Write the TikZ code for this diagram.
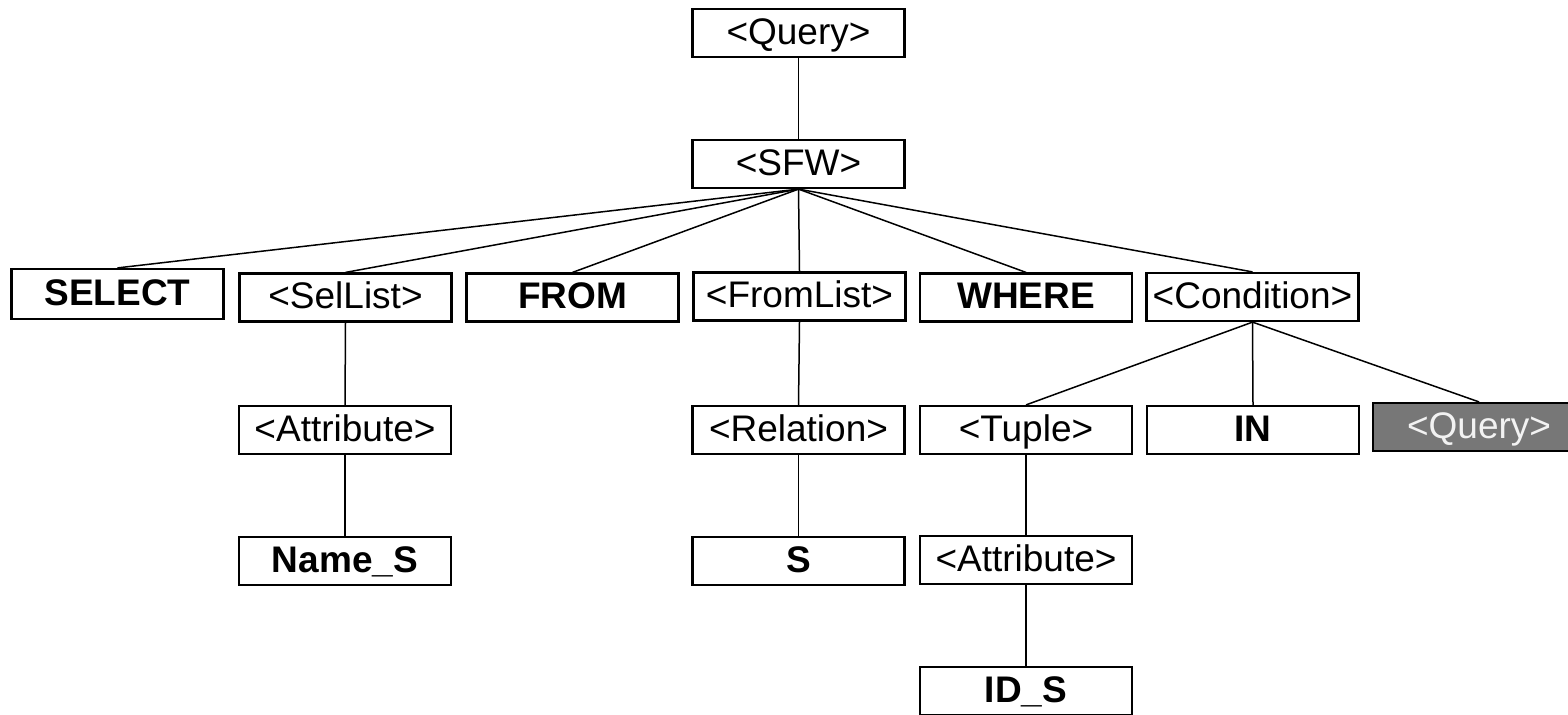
\documentclass[tikz,border=0pt]{standalone}
\usepackage{fontspec}
\setmainfont{Liberation Sans}
\definecolor{shade}{HTML}{777777}
\definecolor{paletext}{HTML}{F2F2F2}
\tikzset{
  box/.style={draw=black, line width=1.1pt, fill=white, minimum width=106pt,
    minimum height=24pt, inner sep=0pt, text height=14.4pt, text depth=3pt,
    font=\fontsize{18.5}{20}\selectfont},
  kw/.style={box, font=\fontsize{18.5}{20}\selectfont\bfseries},
  hl/.style={box, fill=shade, text=paletext},
  link/.style={draw=black, line width=0.75pt}
}
\begin{document}
\begin{tikzpicture}[x=0.5pt,y=-0.5pt]
\clip (0,0) rectangle (1568,714);
\fill[white] (0,0) rectangle (1568,714);
% root and select-from-where
\node[box] (q0) at (798.5,33) {<Query>};
\node[box] (sfw) at (798.5,164) {<SFW>};
% clauses
\node[kw, minimum height=25pt] (select) at (117.5,294) {SELECT};
\node[box] (sellist) at (345.5,297.5) {<SelList>};
\node[kw] (from) at (572.5,297.5) {FROM};
\node[box] (fromlist) at (799.5,296.5) {<FromList>};
\node[kw] (where) at (1026,297.5) {WHERE};
\node[box] (cond) at (1252.5,297) {<Condition>};
% third level
\node[box] (attr1) at (345,430) {<Attribute>};
\node[box] (rel) at (798.5,430) {<Relation>};
\node[box] (tuple) at (1026,430) {<Tuple>};
\node[kw] (in) at (1253,430) {IN};
\node[hl] (q1) at (1479,427) {<Query>};
% leaves
\node[kw] (names) at (345,561) {Name\_S};
\node[kw] (s) at (798.5,561) {S};
\node[box] (attr2) at (1026,560) {<Attribute>};
\node[kw] (ids) at (1026,691) {ID\_S};
% connectors
\draw[link] (q0.south) -- (sfw.north);
\foreach \c in {select,sellist,from,fromlist,where,cond}
  \draw[link] (sfw.south) -- (\c.north);
\draw[link] (sellist.south) -- (attr1.north);
\draw[link] (attr1.south) -- (names.north);
\draw[link] (fromlist.south) -- (rel.north);
\draw[link] (rel.south) -- (s.north);
\foreach \c in {tuple,in,q1}
  \draw[link] (cond.south) -- (\c.north);
\draw[link] (tuple.south) -- (attr2.north);
\draw[link] (attr2.south) -- (ids.north);
\end{tikzpicture}
\end{document}
